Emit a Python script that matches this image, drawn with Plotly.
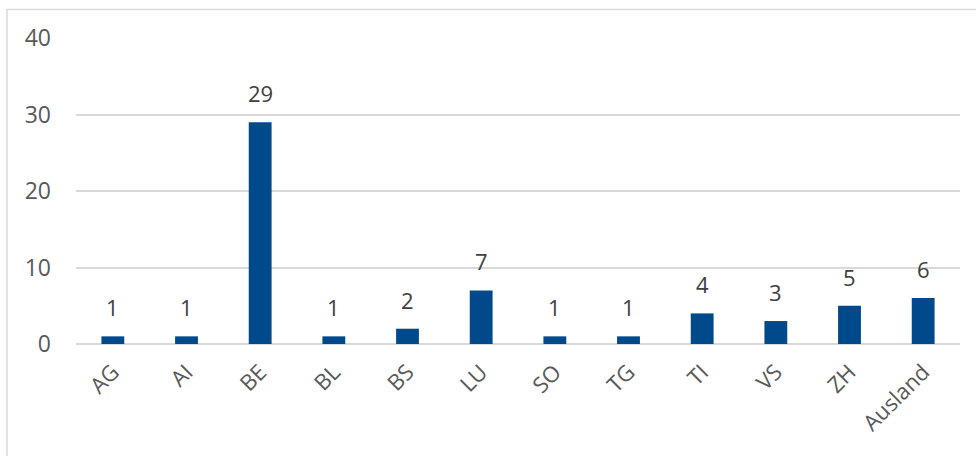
import plotly.graph_objects as go

categories = ["AG", "AI", "BE", "BL", "BS", "LU", "SO", "TG", "TI", "VS", "ZH", "Ausland"]
values = [1, 1, 29, 1, 2, 7, 1, 1, 4, 3, 5, 6]
y_ticks = [0, 10, 20, 30, 40]

BAR = "#004A8B"
GRID = "#d9d9d9"
FONT = "Open Sans, Segoe UI, sans-serif"

fig = go.Figure()
fig.add_trace(go.Bar(x=categories, y=values, marker=dict(color=BAR, line=dict(width=0)),
                     hoverinfo="x+y"))

for c, v in zip(categories, values):
    fig.add_annotation(x=c, y=v, text=str(v), showarrow=False, yanchor="bottom",
                       yshift=12, font=dict(family=FONT, size=22, color="#404040"))

fig.update_layout(
    width=976, height=456,
    margin=dict(l=76, r=16, t=38, b=112),
    paper_bgcolor="white", plot_bgcolor="white",
    bargap=0.69,
    showlegend=False,
    font=dict(family=FONT, size=22, color="#595959"),
    xaxis=dict(type="category", tickangle=-45, showgrid=False, showline=False,
               ticks="", ticklabelstandoff=10, tickfont=dict(size=22, color="#595959")),
    yaxis=dict(range=[0, 40], tickvals=y_ticks, showgrid=True, gridcolor=GRID, gridwidth=1.5,
               zeroline=True, zerolinecolor=GRID, zerolinewidth=1.5, showline=False,
               ticks="", ticklabelstandoff=24, tickfont=dict(size=23, color="#595959")),
    shapes=[dict(type="rect", xref="paper", yref="paper",
                 x0=(7 - 76) / 884, x1=1.2, y0=-0.6, y1=1 + (38 - 9.5) / 306,
                 line=dict(color=GRID, width=1.5), layer="below")],
)

fig.write_html("out.html")
